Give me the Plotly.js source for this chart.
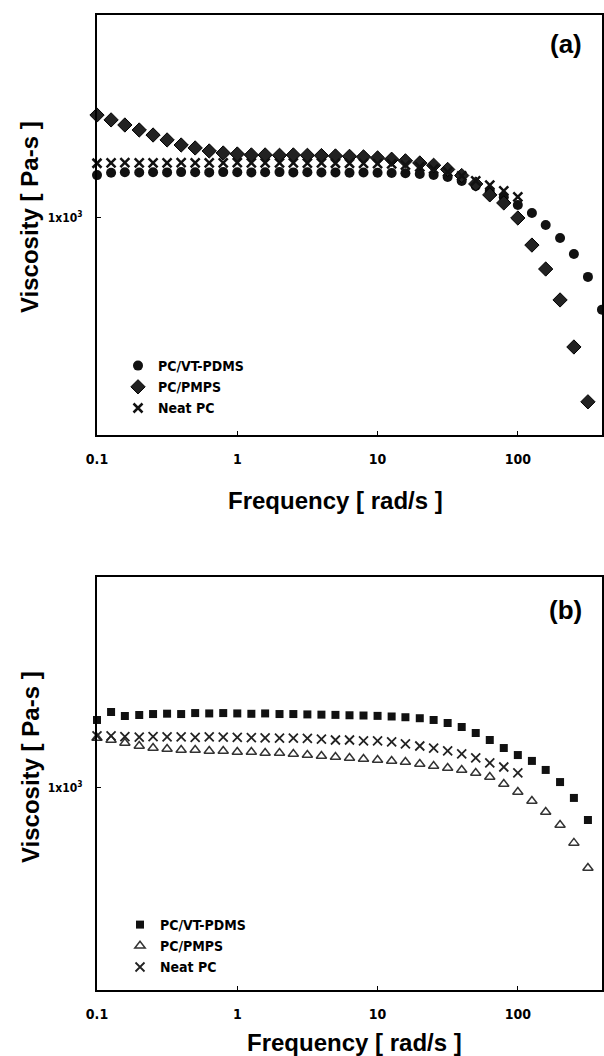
<!DOCTYPE html>
<html>
<head>
<meta charset="utf-8">
<script src="https://cdn.plot.ly/plotly-3.0.1.min.js"></script>
<style>html,body{margin:0;padding:0;background:#fff;}#chart{width:604px;height:1056px;}</style>
</head>
<body>
<div id="chart"></div>
<script>
// Frequency [rad/s]
var freq = [0.1,0.126,0.158,0.2,0.251,0.316,0.398,0.501,0.631,0.794,1,1.26,1.58,2,2.51,3.16,3.98,5.01,6.31,7.94,10,12.6,15.8,20,25.1,31.6,39.8,50.1,63.1,79.4,100,126,158,200,251,316,398];

// Panel (a) viscosity [Pa-s]
var a_vtpdms = [1265,1282,1285,1283,1285,1284,1286,1285,1284,1286,1285,1284,1285,1286,1284,1285,1283,1284,1282,1283,1281,1280,1278,1273,1266,1252,1225,1192,1160,1120,1074,1028,962,896,821,724,605];
var a_pmps = [1758,1712,1665,1620,1576,1534,1492,1468,1444,1428,1420,1413,1413,1410,1413,1410,1408,1405,1402,1398,1390,1380,1368,1352,1335,1305,1262,1205,1135,1086,1000,862,756,638,493,365];
var a_neat = [1350,1352,1354,1352,1353,1352,1354,1352,1353,1352,1354,1352,1353,1352,1352,1351,1352,1350,1350,1349,1348,1345,1337,1323,1308,1287,1259,1225,1198,1160,1122];

// Panel (b) viscosity [Pa-s]
var b_vtpdms = [1452,1517,1484,1492,1500,1503,1500,1508,1505,1508,1505,1502,1505,1500,1500,1497,1495,1493,1490,1488,1485,1480,1474,1466,1452,1428,1397,1352,1301,1245,1198,1160,1104,1033,947,839];
var b_pmps = [1315,1301,1280,1259,1245,1238,1232,1232,1225,1225,1218,1218,1211,1211,1205,1198,1192,1185,1179,1172,1166,1160,1153,1141,1128,1116,1104,1086,1062,1022,978,931,877,816,740,645];
var b_neat = [1330,1330,1325,1322,1326,1323,1324,1320,1323,1322,1320,1318,1316,1315,1314,1312,1308,1301,1301,1294,1294,1287,1273,1259,1245,1225,1205,1179,1147,1122,1086];

var seriesNames = ['PC/VT-PDMS','PC/PMPS','Neat PC'];
var xTickVals = [0.1,1,10,100];
var xTickText = ['0.1','1','10','100'];
var yTickVals = [1000];
var yTickText = ['1x10<sup>3</sup>'];

var narrow = 'Liberation Sans Narrow, Arial Narrow, DejaVu Sans Condensed, sans-serif';
var sans = 'Liberation Sans, Arial, Helvetica, sans-serif';

var traces = [
  {x: freq.slice(0, a_vtpdms.length), y: a_vtpdms, name: seriesNames[0], mode: 'markers', type: 'scatter',
   xaxis: 'x', yaxis: 'y', legend: 'legend', cliponaxis: false,
   marker: {symbol: 'circle', size: 10, color: '#111'}},
  {x: freq.slice(0, a_pmps.length), y: a_pmps, name: seriesNames[1], mode: 'markers', type: 'scatter',
   xaxis: 'x', yaxis: 'y', legend: 'legend', cliponaxis: false,
   marker: {symbol: 'diamond', size: 11, color: '#222', line: {width: 1, color: '#000'}}},
  {x: freq.slice(0, a_neat.length), y: a_neat, name: seriesNames[2], mode: 'markers', type: 'scatter',
   xaxis: 'x', yaxis: 'y', legend: 'legend', cliponaxis: false,
   marker: {symbol: 'x-thin', size: 9, line: {width: 2.5, color: '#111'}}},
  {x: freq.slice(0, b_vtpdms.length), y: b_vtpdms, name: seriesNames[0], mode: 'markers', type: 'scatter',
   xaxis: 'x2', yaxis: 'y2', legend: 'legend2', cliponaxis: false,
   marker: {symbol: 'square', size: 8, color: '#111'}},
  {x: freq.slice(0, b_pmps.length), y: b_pmps, name: seriesNames[1], mode: 'markers', type: 'scatter',
   xaxis: 'x2', yaxis: 'y2', legend: 'legend2', cliponaxis: false,
   marker: {symbol: 'triangle-up-open', size: 9, color: '#333', line: {width: 1.5, color: '#333'}}},
  {x: freq.slice(0, b_neat.length), y: b_neat, name: seriesNames[2], mode: 'markers', type: 'scatter',
   xaxis: 'x2', yaxis: 'y2', legend: 'legend2', cliponaxis: false,
   marker: {symbol: 'x-thin', size: 9, line: {width: 1.8, color: '#222'}}}
];

function xAxis(dom, anchor) {
  return {type: 'log', range: [-1, 2.6], domain: dom, anchor: anchor,
    showline: true, mirror: true, linewidth: 2, linecolor: '#000',
    showgrid: false, zeroline: false, ticks: 'inside', ticklen: 4, tickcolor: '#000',
    tickvals: xTickVals, ticktext: xTickText, ticklabelstandoff: 10,
    tickfont: {family: narrow, size: 14, color: '#000', weight: 'bold'}};
}
function yAxis(dom, anchor, rng) {
  return {type: 'log', range: rng, domain: dom, anchor: anchor,
    showline: true, mirror: true, linewidth: 2, linecolor: '#000',
    showgrid: false, zeroline: false, ticks: 'inside', ticklen: 4, tickcolor: '#000',
    tickvals: yTickVals, ticktext: yTickText, ticklabelstandoff: 10,
    tickfont: {family: narrow, size: 12, color: '#000', weight: 'bold'}};
}

var W = 604, H = 1056;
var legendFont = {family: narrow, size: 14, color: '#000', weight: 'bold'};

var layout = {
  width: W, height: H,
  margin: {l: 0, r: 0, t: 0, b: 0},
  paper_bgcolor: '#fff', plot_bgcolor: '#fff',
  xaxis: xAxis([97 / W, 602 / W], 'y'),
  yaxis: yAxis([1 - 435 / H, 1 - 15 / H], 'x', [2.4833, 3.4833]),
  xaxis2: xAxis([97 / W, 602 / W], 'y2'),
  yaxis2: yAxis([1 - 990 / H, 1 - 577 / H], 'x2', [2.519, 3.5024]),
  legend: {x: 118 / W, y: 1 - 350 / H, xanchor: 'left', yanchor: 'top', bgcolor: 'rgba(0,0,0,0)',
    font: legendFont, tracegroupgap: 0, itemwidth: 30},
  legend2: {x: 120 / W, y: 1 - 909 / H, xanchor: 'left', yanchor: 'top', bgcolor: 'rgba(0,0,0,0)',
    font: legendFont, tracegroupgap: 0, itemwidth: 30},
  annotations: [
    {text: '(a)', xref: 'paper', yref: 'paper', x: 566 / W, y: 1 - 44 / H, xanchor: 'center', yanchor: 'middle',
     showarrow: false, font: {family: sans, size: 26, color: '#000', weight: 'bold'}},
    {text: '(b)', xref: 'paper', yref: 'paper', x: 565 / W, y: 1 - 610 / H, xanchor: 'center', yanchor: 'middle',
     showarrow: false, font: {family: sans, size: 26, color: '#000', weight: 'bold'}},
    {text: 'Viscosity [ Pa-s ]', xref: 'paper', yref: 'paper', x: 29 / W, y: 1 - 217 / H, textangle: -90,
     xanchor: 'center', yanchor: 'middle', showarrow: false, font: {family: sans, size: 24, color: '#000', weight: 'bold'}},
    {text: 'Viscosity [ Pa-s ]', xref: 'paper', yref: 'paper', x: 30 / W, y: 1 - 767 / H, textangle: -90,
     xanchor: 'center', yanchor: 'middle', showarrow: false, font: {family: sans, size: 24, color: '#000', weight: 'bold'}},
    {text: 'Frequency [ rad/s ]', xref: 'paper', yref: 'paper', x: 335 / W, y: 1 - 500 / H,
     xanchor: 'center', yanchor: 'middle', showarrow: false, font: {family: sans, size: 24, color: '#000', weight: 'bold'}},
    {text: 'Frequency [ rad/s ]', xref: 'paper', yref: 'paper', x: 355 / W, y: 1 - 1042 / H,
     xanchor: 'center', yanchor: 'middle', showarrow: false, font: {family: sans, size: 24, color: '#000', weight: 'bold'}}
  ],
  showlegend: true
};

Plotly.newPlot('chart', traces, layout, {displayModeBar: false, staticPlot: true});
</script>
</body>
</html>
